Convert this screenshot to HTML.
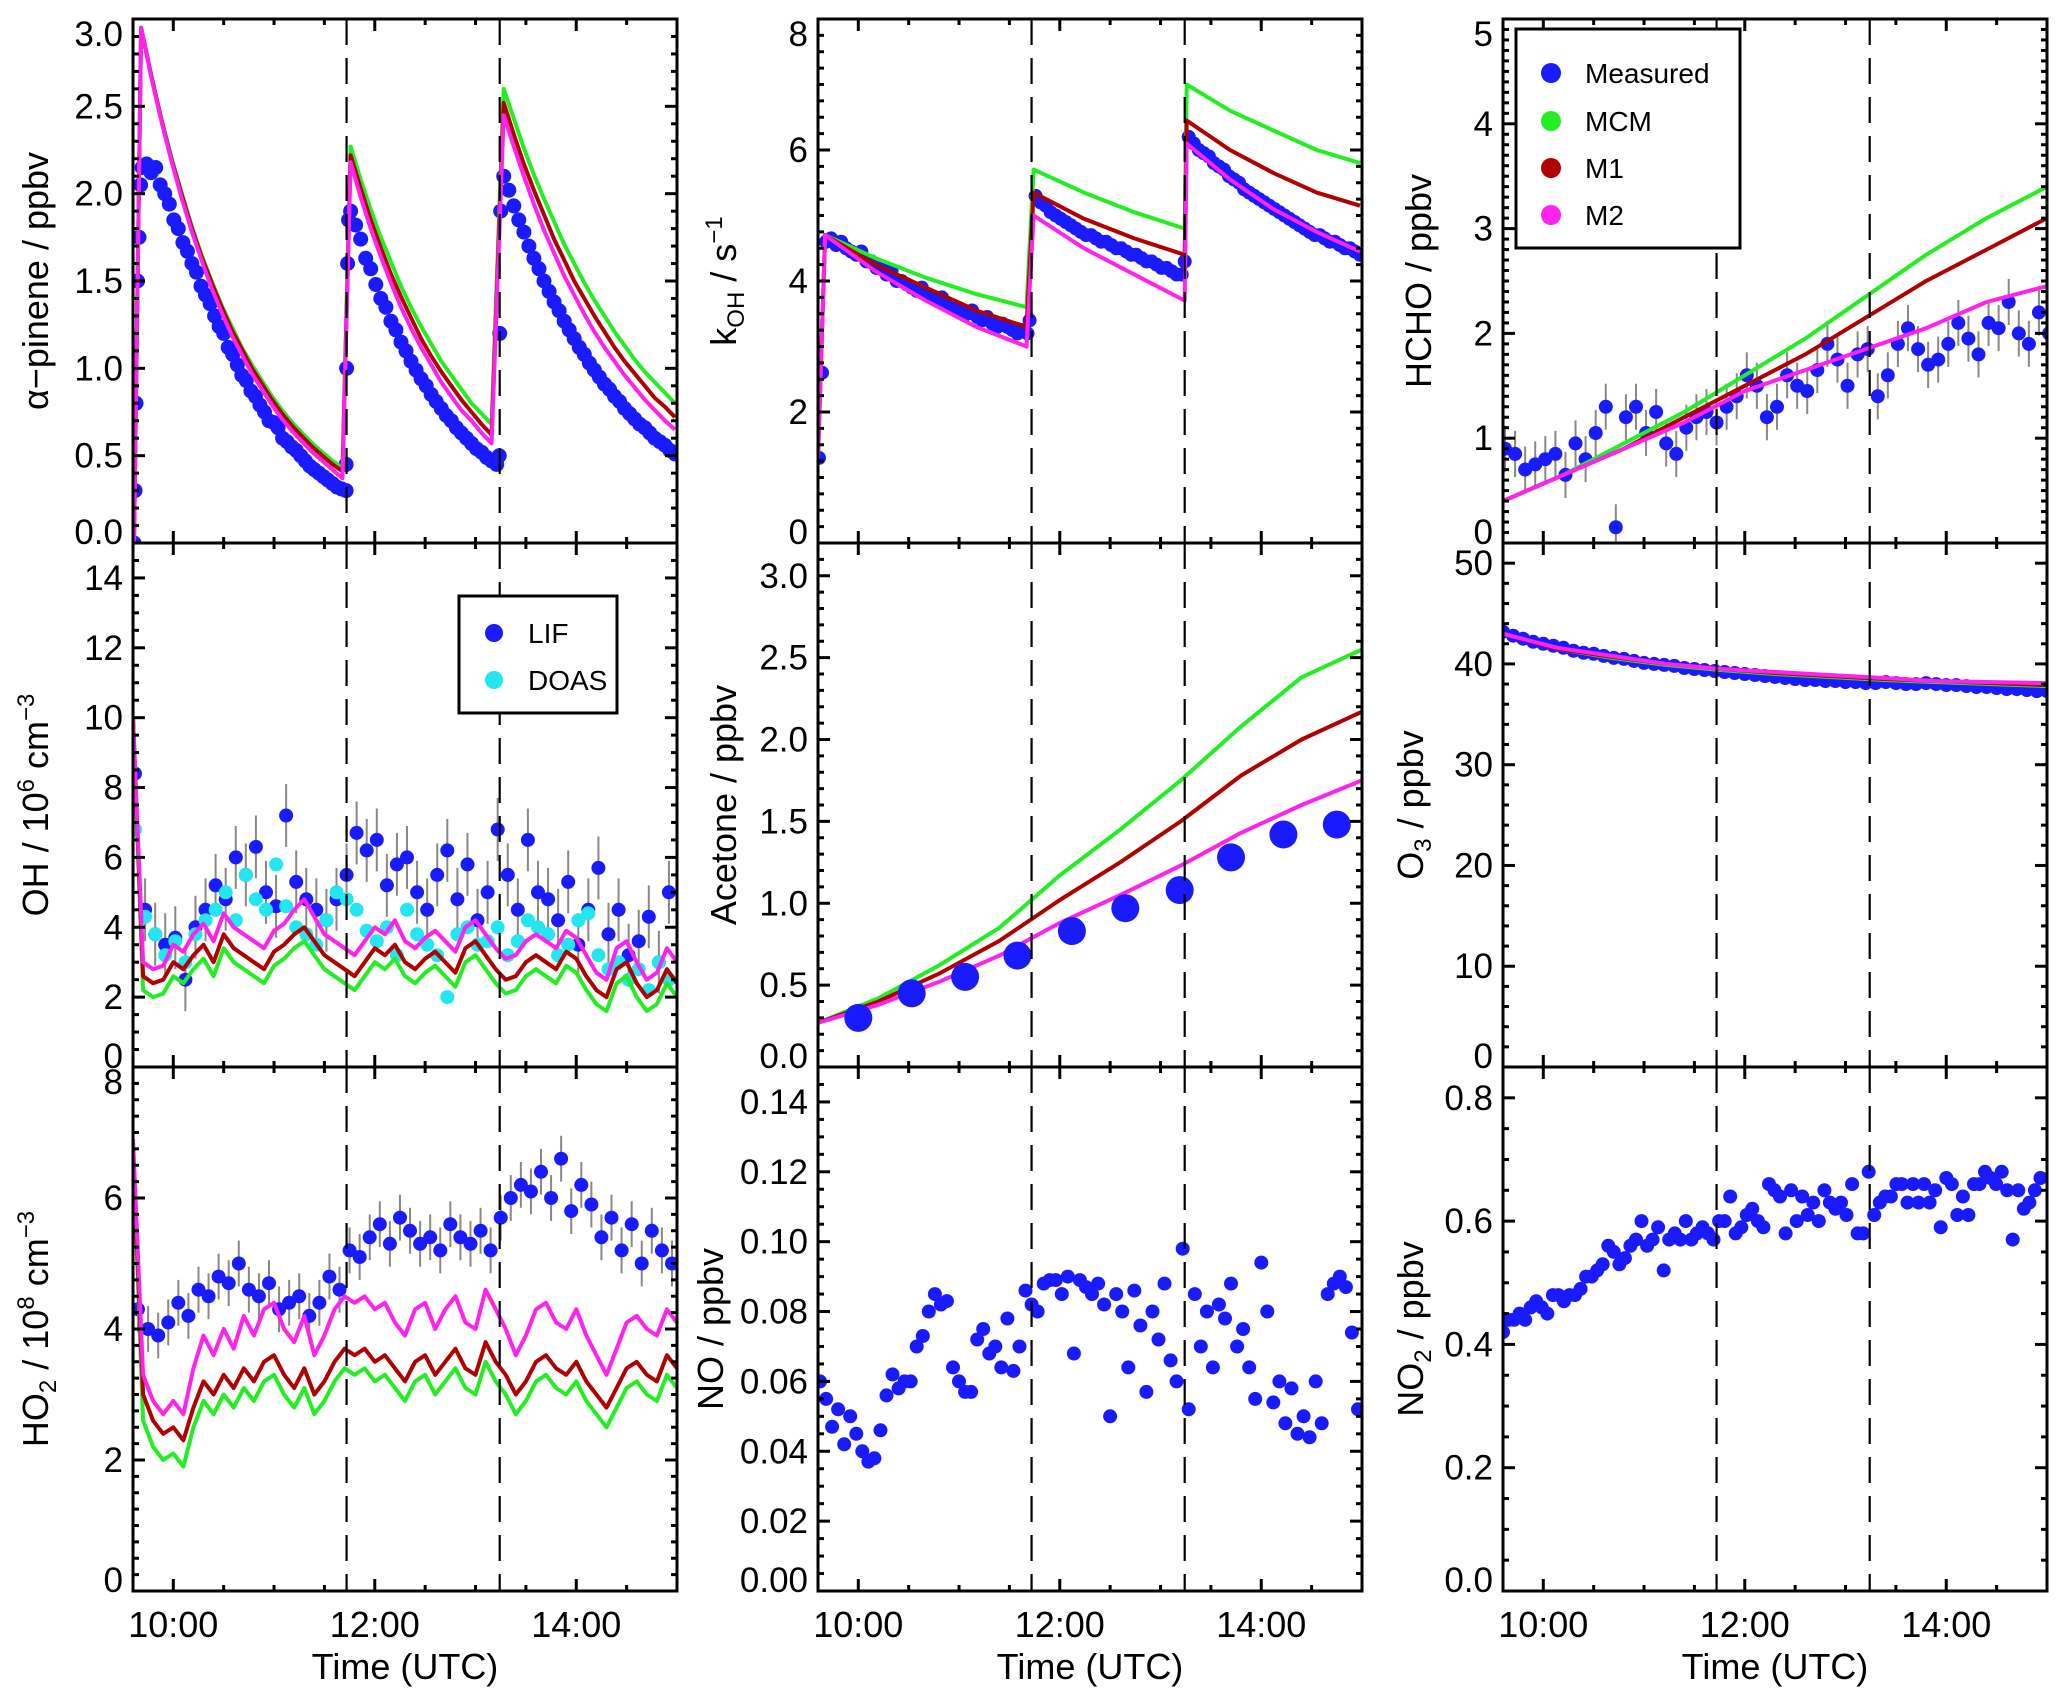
<!DOCTYPE html>
<html><head><meta charset="utf-8"><style>
html,body{margin:0;padding:0;background:#fff}
svg{display:block;font-family:"Liberation Sans",Arial,sans-serif}
</style></head><body>
<svg id="fig" width="2067" height="1705" viewBox="0 0 2067 1705" xmlns="http://www.w3.org/2000/svg"></svg>
<script>
// ---------- data ----------
const timeMin = 9.6, timeMax = 15.0;
const injectionTimes = [11.72, 13.24];
const xTickHours = [10, 12, 14];
const xTickLabels = ["10:00", "12:00", "14:00"];

// alpha-pinene measured (segments: start, step, values)
const apMeasRise = [[9.61,0.0],[9.62,0.3],[9.63,0.8],[9.645,1.5],[9.66,1.75],[9.675,2.05],[11.715,0.45],[11.72,1.0],[11.73,1.6],[11.74,1.85],[13.235,0.5],[13.24,1.2],[13.25,1.9]];
const apMeas1 = [2.15,2.17,2.12,2.15,2.05,2.0,1.94,1.85,1.8,1.72,1.67,1.6,1.55,1.47,1.42,1.37,1.30,1.24,1.2,1.12,1.08,1.02,0.96,0.93,0.87,0.84,0.79,0.75,0.7,0.69,0.66,0.6,0.58,0.55,0.53,0.5,0.47,0.44,0.42,0.40,0.38,0.36,0.34,0.32,0.31,0.3];
const apMeas2 = [1.90,1.82,1.74,1.63,1.57,1.48,1.40,1.35,1.27,1.22,1.15,1.10,1.04,0.99,0.94,0.90,0.85,0.81,0.77,0.73,0.70,0.66,0.63,0.60,0.57,0.54,0.52,0.49,0.47,0.45];
const apMeas3 = [2.10,2.02,1.93,1.85,1.78,1.70,1.63,1.57,1.50,1.44,1.38,1.33,1.27,1.22,1.17,1.12,1.08,1.03,0.99,0.95,0.91,0.88,0.84,0.81,0.77,0.74,0.71,0.68,0.66,0.63,0.60,0.58,0.56,0.53,0.51];
const apMCM = [[2.95,2.68,2.43,2.21,2.01,1.82,1.65,1.50,1.36,1.24,1.12,1.02,0.93,0.84,0.76,0.69,0.63,0.57,0.52,0.47,0.43],[2.27,2.08,1.91,1.75,1.61,1.47,1.35,1.24,1.14,1.04,0.96,0.88,0.80,0.74,0.68],[2.60,2.43,2.26,2.11,1.97,1.84,1.71,1.60,1.49,1.39,1.30,1.21,1.13,1.05,0.98,0.92,0.86,0.80]];
const apM1 = [[2.95,2.68,2.43,2.20,2.00,1.81,1.64,1.49,1.35,1.22,1.11,1.00,0.91,0.82,0.74,0.67,0.61,0.55,0.50,0.45,0.41],[2.22,2.03,1.85,1.69,1.54,1.41,1.29,1.17,1.07,0.98,0.90,0.82,0.75,0.68,0.62],[2.52,2.34,2.17,2.02,1.88,1.74,1.62,1.50,1.40,1.30,1.21,1.12,1.04,0.97,0.90,0.83,0.78,0.72]];
const apM2 = [[2.95,2.67,2.42,2.19,1.98,1.79,1.62,1.46,1.32,1.19,1.08,0.97,0.88,0.79,0.71,0.64,0.58,0.52,0.47,0.42,0.37],[2.18,1.98,1.80,1.64,1.49,1.35,1.23,1.12,1.02,0.92,0.84,0.76,0.70,0.63,0.57],[2.45,2.27,2.10,1.94,1.79,1.66,1.53,1.42,1.31,1.21,1.12,1.04,0.96,0.89,0.82,0.76,0.70,0.65]];

// kOH
const kMeasRise = [[9.61,1.3],[9.64,2.6],[11.70,3.4],[13.24,4.3]];
const kMeas1 = [4.6,4.65,4.55,4.6,4.5,4.45,4.4,4.45,4.3,4.3,4.2,4.2,4.1,4.15,4.0,4.0,3.95,3.9,3.85,3.9,3.8,3.75,3.7,3.75,3.65,3.6,3.6,3.55,3.5,3.55,3.45,3.4,3.45,3.35,3.3,3.35,3.3,3.25,3.2,3.25,3.2];
const kMeas2 = [5.3,5.2,5.15,5.05,5.0,4.95,4.9,4.85,4.8,4.75,4.7,4.7,4.65,4.6,4.6,4.55,4.5,4.5,4.45,4.4,4.4,4.35,4.3,4.3,4.25,4.2,4.2,4.15,4.1,4.1];
const kMeas3 = [6.2,6.1,6.0,5.95,5.9,5.8,5.75,5.7,5.6,5.55,5.5,5.4,5.35,5.3,5.25,5.2,5.15,5.1,5.05,5.0,4.95,4.9,4.85,4.8,4.75,4.7,4.7,4.65,4.6,4.6,4.55,4.5,4.5,4.45,4.4];
const kMCM = [[4.7,4.35,4.05,3.8,3.6],[5.7,5.35,5.05,4.8],[7.0,6.6,6.3,6.0,5.8]];
const kM1 = [[4.7,4.25,3.9,3.55,3.3],[5.35,4.95,4.65,4.4],[6.45,6.0,5.65,5.35,5.15]];
const kM2 = [[4.7,4.15,3.7,3.3,3.0],[5.0,4.5,4.1,3.7],[6.1,5.55,5.1,4.75,4.45]];

// HCHO
const hchoMeas = [0.9,0.85,0.7,0.75,0.8,0.85,0.65,0.95,0.8,1.05,1.3,0.15,1.2,1.3,1.05,1.25,0.95,0.85,1.1,1.2,1.25,1.15,1.3,1.4,1.6,1.5,1.2,1.3,1.6,1.5,1.45,1.65,1.9,1.75,1.5,1.8,1.85,1.4,1.6,1.9,2.05,1.85,1.7,1.75,1.9,2.1,1.95,1.8,2.1,2.05,2.3,2.0,1.9,2.2,2.0];
const hchoMCM = [0.4,0.65,0.95,1.25,1.6,1.95,2.35,2.75,3.1,3.4];
const hchoM1 = [0.4,0.65,0.9,1.2,1.5,1.8,2.15,2.5,2.8,3.1];
const hchoM2 = [0.4,0.65,0.9,1.15,1.45,1.65,1.85,2.05,2.3,2.45];

// OH
const ohLIF = [8.4,4.5,3.8,3.5,3.7,2.5,4.0,4.5,5.2,4.8,6.0,5.5,6.3,5.0,4.6,7.2,5.3,4.8,4.5,4.2,4.8,5.5,6.7,6.2,6.5,5.2,5.8,6.0,5.0,4.5,5.5,6.2,4.8,5.8,4.2,5.0,6.8,5.5,4.5,6.5,5.0,4.8,4.2,5.3,3.5,4.5,5.7,3.8,4.5,3.2,3.6,4.3,3.0,5.0];
const ohDOAS = [6.8,4.3,3.8,3.2,3.6,3.0,3.8,4.2,4.5,5.0,4.2,5.5,4.8,4.5,5.8,4.6,4.0,3.8,3.5,4.2,5.0,4.8,4.5,3.9,3.6,4.0,3.2,4.5,3.8,3.5,3.2,2.0,3.8,4.0,3.5,3.6,4.0,3.2,3.6,4.2,4.0,3.8,3.2,3.5,4.2,4.4,3.2,2.8,3.0,2.5,2.8,2.2,3.0,2.5];
const ohM1 = [10,2.6,2.4,2.5,3.0,2.8,3.2,3.5,3.0,3.8,3.4,3.2,3.0,2.8,3.3,3.5,3.8,4.0,3.6,3.2,3.0,2.8,2.6,3.0,3.4,3.2,3.5,3.0,2.8,3.1,3.3,3.0,2.7,3.4,3.6,3.2,2.8,2.5,2.6,3.0,3.2,3.0,2.8,3.3,3.1,2.6,2.2,2.0,2.8,3.0,2.4,2.0,2.2,2.8,2.4];
const ohMCM = [10,2.2,2.0,2.1,2.6,2.4,2.8,3.1,2.6,3.4,3.0,2.8,2.6,2.4,2.9,3.1,3.4,3.6,3.2,2.8,2.6,2.4,2.2,2.6,3.0,2.8,3.1,2.6,2.4,2.7,2.9,2.6,2.3,3.0,3.2,2.8,2.4,2.1,2.2,2.6,2.8,2.6,2.4,2.9,2.7,2.2,1.8,1.6,2.4,2.6,2.0,1.6,1.8,2.4,2.0];
const ohM2 = [10,3.0,2.8,2.9,3.5,3.3,3.8,4.1,3.6,4.4,4.0,3.8,3.6,3.4,3.9,4.1,4.5,4.8,4.3,3.8,3.6,3.4,3.2,3.6,4.0,3.8,4.2,3.6,3.4,3.7,3.9,3.6,3.3,4.0,4.2,3.8,3.4,3.1,3.2,3.6,3.8,3.6,3.4,3.9,3.7,3.2,2.7,2.5,3.4,3.6,3.0,2.5,2.7,3.4,3.0];

// Acetone
const acMeasT = [10.0,10.53,11.06,11.58,12.12,12.65,13.19,13.7,14.22,14.75];
const acMeas = [0.3,0.45,0.55,0.68,0.83,0.97,1.08,1.28,1.42,1.48];
const acMCM = [0.27,0.42,0.62,0.85,1.17,1.45,1.75,2.08,2.38,2.55];
const acM1 = [0.27,0.40,0.57,0.77,1.02,1.25,1.50,1.78,2.0,2.17];
const acM2 = [0.27,0.38,0.52,0.68,0.88,1.05,1.23,1.43,1.60,1.75];

// O3
const o3Meas = [43.2,42.8,42.5,42.2,42.0,41.8,41.6,41.3,41.1,41.0,40.8,40.6,40.5,40.3,40.1,40.0,39.9,39.8,39.6,39.5,39.4,39.3,39.2,39.1,39.0,38.9,38.8,38.7,38.6,38.5,38.4,38.4,38.3,38.3,38.2,38.2,38.1,38.1,38.2,38.1,38.0,38.0,38.1,38.0,37.9,37.9,37.8,37.7,37.7,37.6,37.5,37.5,37.4,37.3,37.3];
const o3MCM = [43.0,41.5,40.6,39.9,39.4,39.0,38.7,38.4,38.2,38.0,37.8];
const o3M1 = [43.0,41.5,40.7,40.0,39.5,39.1,38.8,38.5,38.3,38.1,37.9];
const o3M2 = [43.0,41.6,40.8,40.0,39.5,39.2,38.9,38.6,38.3,38.2,38.1];

// HO2
const ho2Meas = [4.3,4.0,3.9,4.1,4.4,4.2,4.6,4.5,4.8,4.7,5.0,4.6,4.5,4.7,4.3,4.4,4.5,4.2,4.4,4.8,4.6,5.2,5.1,5.4,5.6,5.3,5.7,5.5,5.3,5.4,5.2,5.6,5.4,5.3,5.5,5.2,5.7,6.0,6.2,6.1,6.4,6.0,6.6,5.8,6.2,5.9,5.4,5.7,5.2,5.6,5.0,5.5,5.2,5.0];
const ho2M1 = [6.8,3.0,2.6,2.4,2.5,2.3,2.8,3.2,3.0,3.3,3.1,3.4,3.2,3.5,3.6,3.3,3.1,3.4,3.0,3.2,3.5,3.7,3.6,3.7,3.5,3.6,3.4,3.2,3.5,3.6,3.3,3.5,3.7,3.4,3.3,3.8,3.5,3.3,3.0,3.2,3.5,3.6,3.4,3.3,3.5,3.2,3.0,2.8,3.1,3.4,3.5,3.3,3.2,3.6,3.4];
const ho2MCM = [6.8,2.6,2.2,2.0,2.1,1.9,2.5,2.9,2.7,3.0,2.8,3.1,2.9,3.2,3.3,3.0,2.8,3.1,2.7,2.9,3.2,3.4,3.3,3.4,3.2,3.3,3.1,2.9,3.2,3.3,3.0,3.2,3.4,3.1,3.0,3.5,3.2,3.0,2.7,2.9,3.2,3.3,3.1,3.0,3.2,2.9,2.7,2.5,2.8,3.1,3.2,3.0,2.9,3.3,3.1];
const ho2M2 = [6.9,3.3,2.9,2.7,2.9,2.7,3.4,3.9,3.6,4.0,3.7,4.2,3.9,4.3,4.4,4.0,3.8,4.2,3.6,3.9,4.3,4.5,4.4,4.5,4.3,4.4,4.1,3.9,4.3,4.4,4.0,4.3,4.5,4.1,4.0,4.6,4.3,4.0,3.6,3.9,4.3,4.4,4.1,4.0,4.3,3.9,3.6,3.3,3.7,4.1,4.2,4.0,3.9,4.3,4.1];

// NO
const noMeas = [0.060,0.055,0.047,0.052,0.042,0.050,0.045,0.040,0.037,0.038,0.046,0.056,0.062,0.058,0.060,0.060,0.070,0.073,0.080,0.085,0.082,0.083,0.064,0.060,0.057,0.057,0.072,0.075,0.068,0.070,0.064,0.078,0.063,0.070,0.086,0.082,0.080,0.088,0.089,0.089,0.085,0.090,0.068,0.089,0.087,0.085,0.088,0.082,0.050,0.085,0.080,0.064,0.086,0.076,0.057,0.080,0.072,0.088,0.066,0.060,0.098,0.052,0.085,0.070,0.080,0.064,0.082,0.078,0.088,0.070,0.075,0.064,0.055,0.094,0.080,0.054,0.060,0.048,0.058,0.045,0.050,0.044,0.060,0.048,0.085,0.088,0.090,0.087,0.074,0.052];

// NO2
const no2Meas = [0.42,0.44,0.44,0.45,0.44,0.46,0.47,0.46,0.45,0.48,0.48,0.47,0.48,0.48,0.49,0.51,0.51,0.52,0.53,0.56,0.55,0.53,0.54,0.56,0.57,0.60,0.56,0.57,0.59,0.52,0.57,0.58,0.57,0.60,0.57,0.58,0.59,0.58,0.57,0.60,0.60,0.64,0.58,0.59,0.61,0.62,0.60,0.59,0.66,0.65,0.64,0.58,0.65,0.60,0.64,0.61,0.63,0.60,0.65,0.63,0.62,0.63,0.61,0.66,0.58,0.58,0.68,0.61,0.63,0.64,0.64,0.66,0.66,0.63,0.66,0.63,0.66,0.63,0.65,0.59,0.67,0.66,0.61,0.64,0.61,0.66,0.66,0.68,0.67,0.66,0.68,0.65,0.57,0.65,0.62,0.63,0.65,0.67];

// ---------- layout ----------
const cols=[133,818,1503], rows=[19,543,1067], W=544, H=524;
const C_BLUE="#1a1aff", C_CYAN="#22e6f0", C_GREEN="#22ee22", C_RED="#b00000", C_MAG="#ff22ee";
const svg=document.getElementById('fig');
const NS="http://www.w3.org/2000/svg";
function el(tag,attrs,parent){const e=document.createElementNS(NS,tag);for(const k in attrs)e.setAttribute(k,attrs[k]);(parent||svg).appendChild(e);return e;}
function seg(t0,dt,vals){return vals.map((v,i)=>[t0+i*dt,v]);}

function makePanel(c,r,cfg){
  const x0=cols[c], y0=rows[r];
  const g=el('g',{});
  
  
  const sx=t=>x0+(t-timeMin)/(timeMax-timeMin)*W;
  const sy=v=>y0+H-(v-cfg.ymin)/(cfg.ymax-cfg.ymin)*H;
  const cid='clip'+c+r;
  const cp=el('clipPath',{id:cid},g); el('rect',{x:x0,y:y0,width:W,height:H},cp);
  const plot=el('g',{'clip-path':'url(#'+cid+')'},g);
  return {g,plot,sx,sy,x0,y0,cfg};
}
function drawLine(P,pts,color,name){
  const p=el('polyline',{points:pts.map(d=>P.sx(d[0]).toFixed(1)+','+P.sy(d[1]).toFixed(1)).join(' '),fill:'none',stroke:color,'stroke-width':4,'stroke-linejoin':'round'},P.plot);
  
  
}
function drawDots(P,pts,color,rad,name,err){
  const grp=el('g',{},P.plot);
  
  
  pts.forEach(d=>{
    if(err){el('line',{x1:P.sx(d[0]),x2:P.sx(d[0]),y1:P.sy(d[1]-err),y2:P.sy(d[1]+err),stroke:'#888','stroke-width':2},grp);}
  });
  pts.forEach(d=>{
    const ci=el('circle',{cx:P.sx(d[0]).toFixed(1),cy:P.sy(d[1]).toFixed(1),r:rad,fill:color},grp);
    
    
  });
}
function finishPanel(P,bottom){
  const {x0,y0,cfg,g}=P;
  injectionTimes.forEach(t=>{
    const l=el('line',{x1:P.sx(t),x2:P.sx(t),y1:y0,y2:y0+H,stroke:'#000','stroke-width':2.2,'stroke-dasharray':'26,13'},g);
    
    
  });
  const fr=el('rect',{x:x0,y:y0,width:W,height:H,fill:'none',stroke:'#000','stroke-width':3},g);
  
  
  const eps=1e-6;
  for(let v=cfg.ymin; v<=cfg.ymax+eps; v+=cfg.minor){
    const isMaj=Math.abs(Math.round(v/cfg.major)*cfg.major-v)<cfg.minor/10;
    const len=isMaj?12:6, y=P.sy(v);
    el('line',{x1:x0,x2:x0+len,y1:y,y2:y,stroke:'#000','stroke-width':3},g);
    el('line',{x1:x0+W,x2:x0+W-len,y1:y,y2:y,stroke:'#000','stroke-width':3},g);
  }
  const ytg=el('g',{},g);
  
  
  cfg.labels.forEach((lab,i)=>{
    let y=P.sy(cfg.labelVals[i]);
    y=Math.max(y0+15,Math.min(y0+H-11,y));
    const t=el('text',{x:x0-10,y:y+12,'text-anchor':'end','font-size':35},ytg);
    t.textContent=lab;
  });
  for(let h=10; h<=timeMax+eps; h+=0.5){
    const isMaj=Math.abs(h-Math.round(h/2)*2)<eps;
    const len=isMaj?12:6, x=P.sx(h);
    el('line',{x1:x,x2:x,y1:y0+H,y2:y0+H-len,stroke:'#000','stroke-width':3},g);
    el('line',{x1:x,x2:x,y1:y0,y2:y0+len,stroke:'#000','stroke-width':3},g);
  }
  if(bottom){
    const xg=el('g',{},g);
    
    
    xTickHours.forEach((h,i)=>{const t=el('text',{x:P.sx(h),y:y0+H+46,'text-anchor':'middle','font-size':36},xg);t.textContent=xTickLabels[i];});
    const xt=el('text',{x:x0+W/2,y:y0+H+88,'text-anchor':'middle','font-size':36},g);
    xt.textContent='Time (UTC)';
    
    
  }
  const tx=x0-cfg.titleOff, ty=y0+H/2;
  const tt=el('text',{x:tx,y:ty,'text-anchor':'middle','font-size':36,transform:`rotate(-90 ${tx} ${ty})`},g);
  
  
  cfg.title.forEach(part=>{
    const ts=el('tspan',{},tt);
    if(part[1]==='sub'){ts.setAttribute('font-size',24);ts.setAttribute('dy',8);}
    if(part[1]==='sup'){ts.setAttribute('font-size',24);ts.setAttribute('dy',-14);}
    if(part[1]==='back'){ts.setAttribute('dy',part[2]);}
    ts.textContent=part[0];
  });
}
function rng(a,b,s,dec){const o=[];for(let v=a;v<=b+1e-9;v+=s)o.push(+v.toFixed(6));return o;}

// ----- Panel: alpha-pinene -----
let P=makePanel(0,0,{name:'alpha-pinene',ymin:0,ymax:3,major:0.5,minor:0.1});
P.cfg.labelVals=rng(0,3,0.5);P.cfg.labels=P.cfg.labelVals.map(v=>v.toFixed(1));P.cfg.titleOff=85;
P.cfg.title=[['α−pinene / ppbv']];
drawDots(P,apMeasRise.concat(seg(9.69,0.045,apMeas1),seg(11.76,0.05,apMeas2),seg(13.28,0.05,apMeas3)),C_BLUE,7.5,'alpha-pinene-measured');
[[apMCM,C_GREEN,'mcm'],[apM1,C_RED,'m1'],[apM2,C_MAG,'m2']].forEach(([s,col,n])=>{
  drawLine(P,[[9.61,0]].concat(seg(9.68,0.1,s[0]),seg(11.76,0.1,s[1]),seg(13.28,0.1,s[2])),col,'alpha-pinene-'+n+'-line');
});
finishPanel(P,false);

// ----- Panel: OH -----
P=makePanel(0,1,{name:'oh',ymin:0,ymax:15,major:2,minor:0.5});
P.cfg.labelVals=rng(0,14,2);P.cfg.labels=P.cfg.labelVals.map(v=>String(v));P.cfg.titleOff=85;
P.cfg.title=[['OH / 10'],['6','sup'],[' cm','back',14],['−3','sup']];
drawDots(P,seg(9.62,0.1,ohLIF),C_BLUE,7,'oh-lif',0.9);
drawDots(P,seg(9.62,0.1,ohDOAS),C_CYAN,7,'oh-doas');
drawLine(P,seg(9.6,0.1,ohMCM),C_GREEN,'oh-mcm-line');
drawLine(P,seg(9.6,0.1,ohM1),C_RED,'oh-m1-line');
drawLine(P,seg(9.6,0.1,ohM2),C_MAG,'oh-m2-line');
finishPanel(P,false);
(function(){const g=el('g',{});
 el('rect',{x:459,y:596,width:158,height:117,fill:'#fff',stroke:'#000','stroke-width':3},g);
 [['LIF',C_BLUE,633],['DOAS',C_CYAN,680]].forEach(([t,c,y])=>{const e=el('circle',{cx:494,cy:y,r:9,fill:c},g);
 const tx=el('text',{x:528,y:y+10,'font-size':28},g);tx.textContent=t;});})();

// ----- Panel: HO2 -----
P=makePanel(0,2,{name:'ho2',ymin:0,ymax:8,major:2,minor:0.25});
P.cfg.labelVals=rng(0,8,2);P.cfg.labels=P.cfg.labelVals.map(v=>String(v));P.cfg.titleOff=85;
P.cfg.title=[['HO'],['2','sub'],[' / 10','back',-8],['8','sup'],[' cm','back',14],['−3','sup']];
drawDots(P,seg(9.65,0.1,ho2Meas),C_BLUE,7,'ho2-measured',0.35);
drawLine(P,seg(9.6,0.1,ho2MCM),C_GREEN,'ho2-mcm-line');
drawLine(P,seg(9.6,0.1,ho2M1),C_RED,'ho2-m1-line');
drawLine(P,seg(9.6,0.1,ho2M2),C_MAG,'ho2-m2-line');
finishPanel(P,true);

// ----- Panel: kOH -----
P=makePanel(1,0,{name:'koh',ymin:0,ymax:8,major:2,minor:0.25});
P.cfg.labelVals=rng(0,8,2);P.cfg.labels=P.cfg.labelVals.map(v=>String(v));P.cfg.titleOff=82;
P.cfg.title=[['k'],['OH','sub'],[' / s','back',-8],['−1','sup']];
drawDots(P,kMeasRise.concat(seg(9.68,0.05,kMeas1),seg(11.76,0.05,kMeas2),seg(13.28,0.05,kMeas3)),C_BLUE,7,'koh-measured');
[[kMCM,C_GREEN,'mcm'],[kM1,C_RED,'m1'],[kM2,C_MAG,'m2']].forEach(([s,col,n])=>{
  drawLine(P,[[9.6,1.3]].concat(seg(9.67,0.5,s[0]),seg(11.74,0.5,s[1]),seg(13.26,0.43,s[2])),col,'koh-'+n+'-line');
});
finishPanel(P,false);

// ----- Panel: Acetone -----
P=makePanel(1,1,{name:'acetone',ymin:0,ymax:3.2,major:0.5,minor:0.1});
P.cfg.labelVals=rng(0,3,0.5);P.cfg.labels=P.cfg.labelVals.map(v=>v.toFixed(1));P.cfg.titleOff=82;
P.cfg.title=[['Acetone / ppbv']];
drawLine(P,seg(9.6,0.6,acMCM),C_GREEN,'acetone-mcm-line');
drawLine(P,seg(9.6,0.6,acM1),C_RED,'acetone-m1-line');
drawLine(P,seg(9.6,0.6,acM2),C_MAG,'acetone-m2-line');
drawDots(P,acMeasT.map((t,i)=>[t,acMeas[i]]),C_BLUE,14,'acetone-measured');
finishPanel(P,false);

// ----- Panel: NO -----
P=makePanel(1,2,{name:'no',ymin:0,ymax:0.15,major:0.02,minor:0.005});
P.cfg.labelVals=rng(0,0.14,0.02);P.cfg.labels=P.cfg.labelVals.map(v=>v.toFixed(2));P.cfg.titleOff=95;
P.cfg.title=[['NO / ppbv']];
drawDots(P,seg(9.62,0.06,noMeas),C_BLUE,7,'no-measured');
finishPanel(P,true);

// ----- Panel: HCHO -----
P=makePanel(2,0,{name:'hcho',ymin:0,ymax:5,major:1,minor:0.1});
P.cfg.labelVals=rng(0,5,1);P.cfg.labels=P.cfg.labelVals.map(v=>String(v));P.cfg.titleOff=72;
P.cfg.title=[['HCHO / ppbv']];
drawDots(P,seg(9.62,0.1,hchoMeas),C_BLUE,7,'hcho-measured',0.22);
drawLine(P,seg(9.6,0.6,hchoMCM),C_GREEN,'hcho-mcm-line');
drawLine(P,seg(9.6,0.6,hchoM1),C_RED,'hcho-m1-line');
drawLine(P,seg(9.6,0.6,hchoM2),C_MAG,'hcho-m2-line');
finishPanel(P,false);
(function(){const g=el('g',{});
 el('rect',{x:1516,y:29,width:224,height:219,fill:'#fff',stroke:'#000','stroke-width':3},g);
 [['Measured',C_BLUE,73],['MCM',C_GREEN,121],['M1',C_RED,168],['M2',C_MAG,215]].forEach(([t,c,y])=>{const e=el('circle',{cx:1551,cy:y,r:10,fill:c},g);
 const tx=el('text',{x:1585,y:y+10,'font-size':28},g);tx.textContent=t;});})();

// ----- Panel: O3 -----
P=makePanel(2,1,{name:'o3',ymin:0,ymax:52,major:10,minor:2});
P.cfg.labelVals=rng(0,50,10);P.cfg.labels=P.cfg.labelVals.map(v=>String(v));P.cfg.titleOff=80;
P.cfg.title=[['O'],['3','sub'],[' / ppbv','back',-8]];
drawDots(P,seg(9.6,0.1,o3Meas),C_BLUE,7,'o3-measured');
drawLine(P,seg(9.6,0.54,o3MCM),C_GREEN,'o3-mcm-line');
drawLine(P,seg(9.6,0.54,o3M1),C_RED,'o3-m1-line');
drawLine(P,seg(9.6,0.54,o3M2),C_MAG,'o3-m2-line');
finishPanel(P,false);

// ----- Panel: NO2 -----
P=makePanel(2,2,{name:'no2',ymin:0,ymax:0.85,major:0.2,minor:0.05});
P.cfg.labelVals=rng(0,0.8,0.2);P.cfg.labels=P.cfg.labelVals.map(v=>v.toFixed(1));P.cfg.titleOff=80;
P.cfg.title=[['NO'],['2','sub'],[' / ppbv','back',-8]];
drawDots(P,seg(9.6,0.055,no2Meas),C_BLUE,7,'no2-measured');
finishPanel(P,true);
</script>
</body></html>
